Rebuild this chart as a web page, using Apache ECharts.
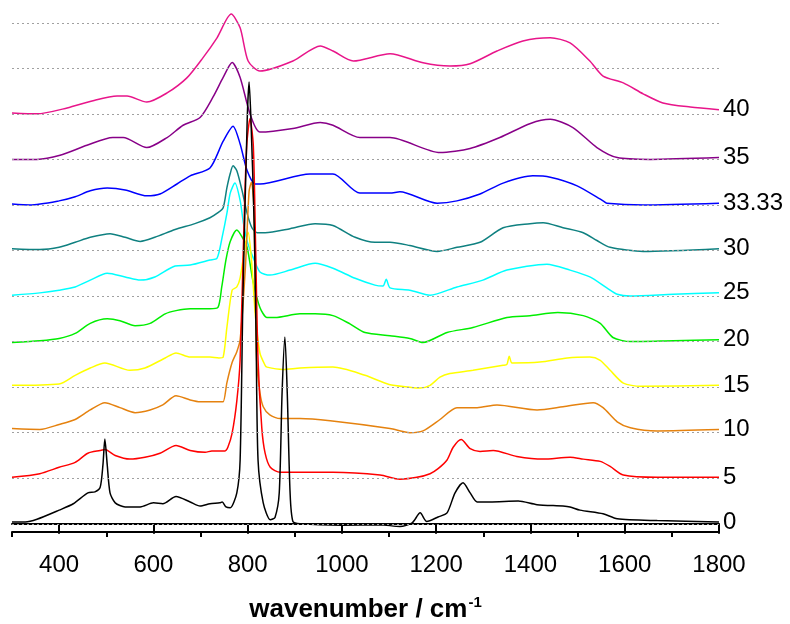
<!DOCTYPE html>
<html>
<head>
<meta charset="utf-8">
<script src="https://cdn.jsdelivr.net/npm/echarts@6.0.0/dist/echarts.min.js"></script>
<style>
html, body { margin: 0; padding: 0; background: #fff; }
#raman-chart { width: 790px; height: 624px; }
</style>
</head>
<body>
<div id="raman-chart"></div>
<script>
// intensity of each spectrum relative to its own baseline (1 = one step of the stack)
var spec0 = [[300,0.04],[328,0.04],[353,0.1],[400,0.3],[430,0.44],[461,0.68],[476,0.7],[487,0.8],[493,1.3],[497,1.86],[502,1.3],[508,0.68],[519,0.46],[540,0.37],[572,0.37],[600,0.46],[620,0.44],[648,0.6],[678,0.48],[699,0.39],[720,0.44],[741,0.46],[746,0.48],[754,0.37],[763,0.35],[777,0.68],[784,1.4],[790,5.0],[799,8.86],[803,9.7],[807,8.86],[814,6.5],[818,4.0],[822,1.4],[833,0.46],[848,0.09],[858,0.14],[867,0.68],[873,2.87],[879,4.1],[884,2.87],[890,0.68],[896,0.05],[911,0.0],[1000,-0.03],[1081,-0.02],[1123,-0.06],[1149,0.02],[1166,0.24],[1180,0.05],[1204,0.15],[1223,0.24],[1240,0.68],[1257,0.9],[1272,0.68],[1287,0.48],[1314,0.48],[1374,0.5],[1414,0.42],[1469,0.39],[1484,0.37],[1505,0.3],[1554,0.22],[1584,0.11],[1669,0.07],[1800,0.04]];
var spec5 = [[300,0.02],[359,0.1],[400,0.24],[434,0.35],[461,0.55],[487,0.61],[497,0.63],[519,0.5],[550,0.42],[582,0.46],[614,0.55],[648,0.72],[678,0.61],[710,0.57],[724,0.6],[752,0.6],[758,0.68],[767,0.99],[777,1.7],[784,2.6],[792,5.5],[798,7.3],[805,7.9],[812,7.3],[817,5.0],[822,2.6],[830,1.1],[837,0.55],[848,0.24],[869,0.13],[911,0.13],[981,0.13],[1081,0.07],[1123,-0.02],[1159,0.02],[1187,0.1],[1204,0.21],[1223,0.4],[1236,0.68],[1253,0.85],[1272,0.65],[1293,0.59],[1321,0.61],[1371,0.48],[1427,0.42],[1484,0.46],[1512,0.42],[1548,0.37],[1569,0.26],[1597,0.07],[1669,0.02],[1800,0.02]];
var spec10 = [[300,0.09],[359,0.07],[400,0.18],[434,0.29],[466,0.5],[497,0.66],[529,0.55],[561,0.44],[593,0.5],[620,0.61],[648,0.81],[678,0.72],[699,0.68],[741,0.68],[748,0.68],[756,1.1],[767,1.54],[777,1.78],[784,2.04],[795,3.6],[803,5.3],[808,5.5],[813,5.0],[819,1.6],[826,0.88],[833,0.57],[847,0.39],[869,0.31],[911,0.31],[975,0.26],[1102,0.09],[1144,0.0],[1172,0.04],[1208,0.29],[1244,0.55],[1287,0.55],[1329,0.61],[1414,0.5],[1469,0.57],[1533,0.66],[1554,0.55],[1584,0.24],[1612,0.11],[1669,0.04],[1800,0.07]];
var spec15 = [[300,0.04],[400,0.07],[434,0.26],[466,0.42],[497,0.53],[550,0.37],[582,0.42],[625,0.64],[648,0.75],[678,0.66],[720,0.66],[739,0.64],[748,0.66],[756,1.32],[767,2.13],[777,2.2],[784,2.4],[793,3.0],[801,3.4],[808,2.8],[816,1.62],[826,0.75],[837,0.48],[841,0.44],[875,0.39],[911,0.42],[981,0.44],[1049,0.26],[1100,0.06],[1144,0.0],[1166,-0.02],[1187,0.04],[1208,0.22],[1229,0.3],[1278,0.37],[1342,0.48],[1350,0.5],[1355,0.68],[1361,0.53],[1420,0.55],[1478,0.64],[1526,0.66],[1548,0.59],[1569,0.37],[1597,0.09],[1633,0.02],[1800,0.04]];
var spec20 = [[300,-0.02],[359,0.02],[400,0.07],[434,0.18],[466,0.4],[502,0.5],[529,0.46],[561,0.35],[593,0.4],[625,0.61],[648,0.68],[678,0.72],[720,0.72],[737,0.75],[745,1.2],[754,1.8],[763,2.2],[777,2.45],[788,2.3],[799,2.06],[811,1.34],[826,0.75],[841,0.53],[858,0.53],[911,0.61],[943,0.61],[981,0.57],[1017,0.39],[1049,0.2],[1102,0.13],[1144,0.07],[1172,-0.02],[1223,0.2],[1278,0.31],[1350,0.53],[1399,0.57],[1458,0.64],[1512,0.57],[1548,0.4],[1575,0.09],[1612,0.0],[1703,0.02],[1800,0.04]];
var spec25 = [[300,0.02],[359,0.07],[400,0.13],[434,0.2],[466,0.35],[502,0.5],[540,0.42],[572,0.35],[603,0.42],[646,0.66],[678,0.68],[720,0.79],[735,0.83],[746,1.3],[756,1.82],[763,2.26],[773,2.48],[784,2.1],[791,1.6],[799,1.2],[811,0.86],[826,0.53],[847,0.46],[890,0.57],[943,0.72],[981,0.61],[1028,0.39],[1070,0.24],[1087,0.22],[1094,0.37],[1102,0.18],[1144,0.13],[1187,0.02],[1244,0.2],[1299,0.35],[1350,0.57],[1435,0.7],[1484,0.57],[1526,0.42],[1562,0.18],[1584,0.04],[1612,0.0],[1703,0.04],[1800,0.07]];
var spec30 = [[300,0.04],[359,0.02],[400,0.07],[434,0.18],[466,0.29],[508,0.37],[540,0.29],[572,0.2],[603,0.29],[646,0.46],[688,0.59],[720,0.72],[737,0.83],[748,0.94],[756,1.38],[763,1.69],[769,1.86],[777,1.75],[788,1.32],[799,0.81],[809,0.5],[820,0.39],[837,0.39],[890,0.48],[943,0.59],[981,0.55],[1028,0.29],[1070,0.18],[1102,0.18],[1144,0.11],[1202,-0.02],[1244,0.07],[1293,0.18],[1342,0.5],[1399,0.59],[1427,0.61],[1469,0.5],[1512,0.39],[1541,0.22],[1569,0.07],[1639,-0.02],[1800,0.04]];
var spec33 = [[300,0.02],[338,0.0],[400,0.09],[434,0.18],[466,0.31],[502,0.37],[540,0.33],[586,0.2],[614,0.24],[650,0.46],[678,0.64],[720,0.81],[748,1.4],[769,1.73],[784,1.34],[799,0.75],[816,0.46],[826,0.46],[932,0.68],[981,0.68],[1038,0.26],[1102,0.26],[1123,0.29],[1202,0.04],[1244,0.09],[1293,0.24],[1342,0.48],[1405,0.64],[1442,0.61],[1499,0.42],[1554,0.09],[1562,0.04],[1639,0.0],[1800,0.04]];
var spec35 = [[300,0.0],[353,0.0],[402,0.09],[459,0.31],[514,0.48],[536,0.48],[586,0.26],[629,0.48],[663,0.75],[699,0.92],[726,1.36],[748,1.8],[767,2.13],[784,1.8],[805,1.0],[826,0.6],[896,0.68],[954,0.81],[981,0.75],[1038,0.48],[1102,0.48],[1208,0.15],[1272,0.24],[1335,0.48],[1400,0.79],[1442,0.88],[1490,0.7],[1541,0.26],[1584,0.04],[1654,0.0],[1800,0.04]];
var spec40 = [[300,0.02],[353,0.0],[417,0.13],[472,0.29],[523,0.39],[544,0.39],[586,0.26],[629,0.46],[671,0.79],[705,1.23],[735,1.67],[765,2.19],[784,1.89],[801,1.16],[826,0.94],[896,1.16],[954,1.49],[981,1.38],[1024,1.16],[1102,1.32],[1172,1.12],[1229,1.05],[1272,1.1],[1329,1.38],[1384,1.6],[1442,1.67],[1484,1.56],[1526,1.16],[1554,0.83],[1597,0.68],[1639,0.44],[1681,0.24],[1739,0.15],[1800,0.09]];

var spectra = [spec0, spec5, spec10, spec15, spec20, spec25, spec30, spec33, spec35, spec40];
var specLabels = ['0', '5', '10', '15', '20', '25', '30', '33.33', '35', '40'];
var specColors = ['#000000', '#ff0000', '#e5820f', '#ffff00', '#00ee00', '#00ffff', '#0f8080', '#0000ff', '#880088', '#e8158a'];
var gridLevels = [0, 1, 2, 3, 4, 5, 6, 7, 8, 9, 10, 11];
var majorTicks = [400, 600, 800, 1000, 1200, 1400, 1600, 1800];
var minorTicks = [300, 500, 700, 900, 1100, 1300, 1500, 1700];

var chart = echarts.init(document.getElementById('raman-chart'));

var series = [{
  name: 'grid',
  type: 'line',
  data: [[300, 0]],
  showSymbol: false,
  silent: true,
  lineStyle: { opacity: 0 },
  markLine: {
    silent: true,
    symbol: ['none', 'none'],
    label: { show: false },
    lineStyle: { type: [2, 3], color: '#a0a0a0', width: 1 },
    data: gridLevels.map(function (l) { return { yAxis: l }; })
  }
}];

// draw the top one first so the black spectrum ends up on top
for (var i = spectra.length - 1; i >= 0; i--) {
  var off = i;
  series.push({
    name: specLabels[i],
    type: 'line',
    showSymbol: false,
    smooth: 0.25,
    lineStyle: { color: specColors[i], width: 1.5 },
    itemStyle: { color: specColors[i] },
    data: spectra[i].map(function (p) { return [p[0], p[1] + off]; }),
    endLabel: {
      show: true,
      formatter: '{a}',
      color: '#000',
      fontSize: 24,
      fontFamily: 'Arial, Liberation Sans',
      distance: 4
    }
  });
}

var option = {
  animation: false,
  backgroundColor: '#fff',
  grid: { left: 12, right: 71, top: 0, bottom: 92, outerBoundsMode: 'none' },
  xAxis: [{
    type: 'value',
    min: 300,
    max: 1800,
    name: '{a|wavenumber / cm}{b|-1}',
    nameLocation: 'middle',
    nameGap: 63,
    nameTextStyle: {
      rich: {
        a: { fontSize: 26, fontWeight: 'bold', fontFamily: 'Arial, Liberation Sans', color: '#000' },
        b: { fontSize: 15, fontWeight: 'bold', fontFamily: 'Arial, Liberation Sans', color: '#000', padding: [0, 0, 14, 1] }
      }
    },
    axisLine: { lineStyle: { color: '#000', width: 2 } },
    axisTick: { customValues: majorTicks, length: 10, lineStyle: { color: '#000', width: 2 } },
    axisLabel: {
      customValues: majorTicks,
      formatter: function (v) { return String(v); },
      color: '#000', fontSize: 24, fontFamily: 'Arial, Liberation Sans', margin: 21
    },
    splitLine: { show: false }
  }, {
    type: 'value',
    min: 300,
    max: 1800,
    position: 'bottom',
    axisLine: { lineStyle: { color: '#000', width: 2 } },
    axisTick: { customValues: minorTicks, length: 5, lineStyle: { color: '#000', width: 2 } },
    axisLabel: { show: false },
    splitLine: { show: false }
  }],
  yAxis: {
    type: 'value',
    min: -0.18,
    max: 11.5,
    show: false
  },
  series: series
};

chart.setOption(option);
</script>
</body>
</html>
